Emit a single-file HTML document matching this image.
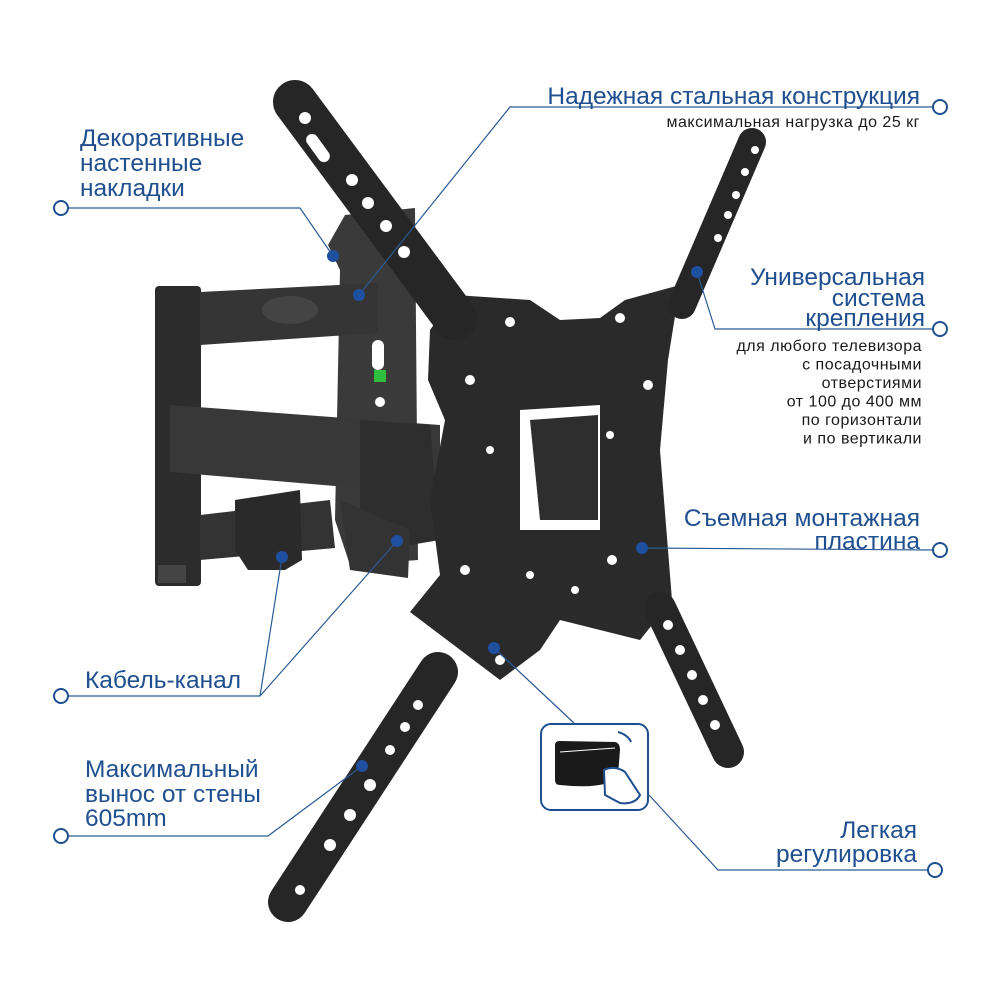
<!DOCTYPE html>
<html><head><meta charset="utf-8"><style>
html,body{margin:0;padding:0;background:#fff;}
svg{display:block}
text{font-family:"Liberation Sans",sans-serif;fill:#1f4f8f}
.h{font-size:24.5px}
.s{font-size:16px;fill:#1a1a1a;letter-spacing:0.5px}
</style></head><body>
<svg width="1000" height="1000" viewBox="0 0 1000 1000">
<!-- wall plate -->
<path d="M328,245 L345,215 L415,208 L418,560 L350,565 L335,520 L340,270 Z" fill="#3a3a3a"/>
<rect x="372" y="340" width="12" height="30" rx="6" fill="#fff"/>
<rect x="374" y="370" width="12" height="12" fill="#2fbf3f"/>
<circle cx="380" cy="402" r="5" fill="#fff"/>
<!-- pillar -->
<rect x="155" y="286" width="46" height="300" rx="4" fill="#2c2c2c"/>
<rect x="158" y="565" width="28" height="18" fill="#444"/>
<!-- upper arm -->
<path d="M200,292 L378,283 L378,333 L200,345 Z" fill="#353535"/>
<ellipse cx="290" cy="310" rx="28" ry="14" fill="#444"/>
<!-- lower arm -->
<path d="M200,515 L330,500 L335,548 L200,560 Z" fill="#333"/>
<path d="M235,500 L300,490 L302,560 L285,570 L248,570 L235,550 Z" fill="#2a2a2a"/>
<!-- big arm -->
<path d="M170,405 L440,425 L440,495 L170,472 Z" fill="#383838"/>
<path d="M360,420 L430,425 L440,540 L410,545 L360,520 Z" fill="#2e2e2e"/>
<path d="M340,500 L410,530 L408,578 L350,570 Z" fill="#333"/>
<!-- tilt bracket -->
<path d="M520,415 L600,405 L602,530 L545,528 L525,500 Z" fill="#2b2b2b"/>
<!-- main plate -->
<path d="M430,330 L455,295 L530,300 L560,320 L600,318 L625,300 L680,285 L668,360 L660,450 L672,600 L640,640 L600,630 L560,620 L540,650 L500,680 L410,612 L440,575 L430,500 L445,420 L428,380 Z" fill="#2a2a2a"/>
<path d="M520,410 L600,405 L600,530 L520,530 Z" fill="#fff"/>
<path d="M530,420 L598,415 L598,520 L540,520 Z" fill="#2e2e2e"/>
<g fill="#fff">
<circle cx="510" cy="322" r="5"/><circle cx="620" cy="318" r="5"/><circle cx="470" cy="380" r="5"/><circle cx="648" cy="385" r="5"/>
<circle cx="490" cy="450" r="4"/><circle cx="610" cy="435" r="4"/><circle cx="465" cy="570" r="5"/><circle cx="612" cy="560" r="5"/>
<circle cx="500" cy="660" r="5"/><circle cx="610" cy="650" r="5"/><circle cx="530" cy="575" r="4"/><circle cx="575" cy="590" r="4"/>
</g>
<!-- arms -->
<g stroke="#262626" stroke-linecap="round" fill="none">
<line x1="295" y1="102" x2="455" y2="318" stroke-width="44"/>
<line x1="752" y1="142" x2="682" y2="305" stroke-width="28"/>
<line x1="660" y1="608" x2="728" y2="752" stroke-width="32"/>
<line x1="438" y1="672" x2="288" y2="902" stroke-width="40"/>
</g>
<g fill="#fff">
<circle cx="305" cy="118" r="6"/><rect x="312" y="132" width="12" height="32" rx="6" transform="rotate(-36 318 148)"/>
<circle cx="352" cy="180" r="6"/><circle cx="368" cy="203" r="6"/><circle cx="386" cy="226" r="6"/><circle cx="404" cy="252" r="6"/>
<circle cx="755" cy="150" r="4"/><circle cx="745" cy="172" r="4"/><circle cx="736" cy="195" r="4"/><circle cx="728" cy="215" r="4"/><circle cx="718" cy="238" r="4"/>
<circle cx="668" cy="625" r="5"/><circle cx="680" cy="650" r="5"/><circle cx="692" cy="675" r="5"/><circle cx="703" cy="700" r="5"/><circle cx="715" cy="725" r="5"/>
<circle cx="418" cy="705" r="5"/><circle cx="405" cy="727" r="5"/><circle cx="390" cy="750" r="5"/><circle cx="370" cy="785" r="6"/><circle cx="350" cy="815" r="6"/><circle cx="330" cy="845" r="6"/><circle cx="300" cy="890" r="5"/>
</g>
<!-- callout lines -->
<g stroke="#2a5a94" stroke-width="1.2" fill="none">
<polyline points="68,208 300,208 333,256"/>
<polyline points="933,107 510,107 359,295"/>
<polyline points="933,329 715,329 697,272"/>
<polyline points="933,550 642,548"/>
<polyline points="68,696 260,696 282,557"/>
<polyline points="260,696 397,541"/>
<polyline points="68,836 268,836 362,766"/>
<polyline points="494,648 574,723"/>
<polyline points="649,795 718,870 928,870"/>
</g>
<g fill="#fff" stroke="#1f4f8f" stroke-width="2">
<circle cx="61" cy="208" r="7"/><circle cx="940" cy="107" r="7"/><circle cx="940" cy="329" r="7"/><circle cx="940" cy="550" r="7"/>
<circle cx="61" cy="696" r="7"/><circle cx="61" cy="836" r="7"/><circle cx="935" cy="870" r="7"/>
</g>
<g fill="#1f4f9f">
<circle cx="333" cy="256" r="6"/><circle cx="359" cy="295" r="6"/><circle cx="697" cy="272" r="6"/><circle cx="642" cy="548" r="6"/>
<circle cx="282" cy="557" r="6"/><circle cx="397" cy="541" r="6"/><circle cx="362" cy="766" r="6"/><circle cx="494" cy="648" r="6"/>
</g>
<!-- adjust box -->
<rect x="541" y="724" width="107" height="86" rx="10" fill="#fff" stroke="#1f4f8f" stroke-width="2"/>
<path d="M555,745 Q555,741 560,741 L615,742 Q620,743 620,750 L618,775 Q610,790 560,785 Q555,785 555,780 Z" fill="#1a1a1a"/>
<path d="M560,752 L615,748" stroke="#fff" stroke-width="1"/>
<path d="M618,732 Q628,735 631,742" stroke="#1f4f8f" stroke-width="2" fill="none"/>
<path d="M604,770 Q615,765 625,772 L640,795 Q635,805 620,803 L605,795 Z" fill="#fff" stroke="#1f4f8f" stroke-width="2"/>
<!-- texts -->
<text class="h" x="80" y="146">Декоративные</text>
<text class="h" x="80" y="171">настенные</text>
<text class="h" x="80" y="196">накладки</text>
<text class="h" x="920" y="104" text-anchor="end">Надежная стальная конструкция</text>
<text class="s" x="920" y="127" text-anchor="end">максимальная нагрузка до 25 кг</text>
<text class="h" x="925" y="285" text-anchor="end">Универсальная</text>
<text class="h" x="925" y="306" text-anchor="end">система</text>
<text class="h" x="925" y="326" text-anchor="end">крепления</text>
<text class="s" x="922" y="351" text-anchor="end">для любого телевизора</text>
<text class="s" x="922" y="369.5" text-anchor="end">с посадочными</text>
<text class="s" x="922" y="388" text-anchor="end">отверстиями</text>
<text class="s" x="922" y="406.5" text-anchor="end">от 100 до 400 мм</text>
<text class="s" x="922" y="425" text-anchor="end">по горизонтали</text>
<text class="s" x="922" y="443.5" text-anchor="end">и  по вертикали</text>
<text class="h" x="920" y="526" text-anchor="end">Съемная монтажная</text>
<text class="h" x="920" y="549" text-anchor="end">пластина</text>
<text class="h" x="85" y="688">Кабель-канал</text>
<text class="h" x="85" y="777">Максимальный</text>
<text class="h" x="85" y="802">вынос от стены</text>
<text class="h" x="85" y="826">605mm</text>
<text class="h" x="917" y="838" text-anchor="end">Легкая</text>
<text class="h" x="917" y="862" text-anchor="end">регулировка</text>
</svg>
</body></html>
